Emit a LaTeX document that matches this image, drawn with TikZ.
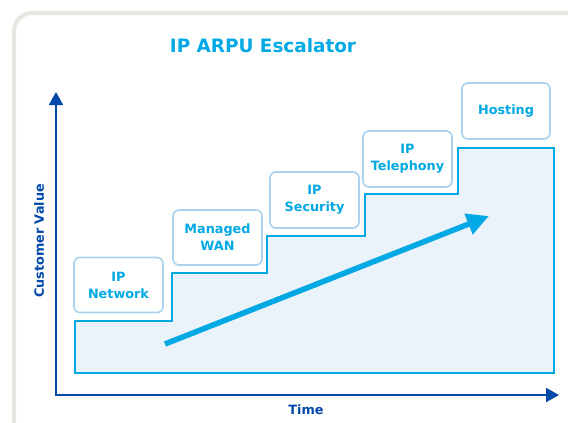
\documentclass[tikz,border=0pt]{standalone}
\usepackage{fontspec}
\setmainfont{DejaVu Sans}
\usetikzlibrary{arrows.meta}
\definecolor{framegrey}{RGB}{231,229,223}
\definecolor{axisblue}{RGB}{0,72,170}
\definecolor{stepcyan}{RGB}{0,168,228}
\definecolor{stepfill}{RGB}{234,242,250}
\definecolor{boxline}{RGB}{168,210,238}
\begin{document}
\begin{tikzpicture}[x=1pt, y=-1pt,
  every node/.style={font=\fontsize{12.8}{17}\selectfont\bfseries},
  svc/.style={draw=boxline, line width=1.6pt, fill=white, rounded corners=6pt, minimum width=89pt, minimum height=55pt, align=center, text=stepcyan, inner sep=0pt},
  axislabel/.style={text=axisblue}]
\useasboundingbox (0,0) rectangle (568,423);
\clip (0,0) rectangle (568,423);
\draw[framegrey, line width=4pt, rounded corners=18pt] (14,13) rectangle (590,445);
\node[text=stepcyan, font=\fontsize{18.4}{22}\selectfont\bfseries] (title) at (263,46) {IP ARPU Escalator};
% staircase
\draw[stepcyan, fill=stepfill, line width=1.8pt] (75,373) -- (75,321) -- (172,321) -- (172,273) -- (267,273) -- (267,236) -- (365,236) -- (365,194) -- (458,194) -- (458,148) -- (554,148) -- (554,373) -- cycle;
\node[svc] (net) at (118.5,285) {IP\\Network};
\node[svc] (wan) at (217.5,237.5) {Managed\\WAN};
\node[svc, minimum height=56pt] (sec) at (314.5,200) {IP\\Security};
\node[svc, minimum height=56pt] (tel) at (407.5,159) {IP\\Telephony};
\node[svc, minimum width=88pt, minimum height=56pt] (host) at (506,111) {Hosting};
% growth arrow
\coordinate (grow0) at (165,344);
\coordinate (grow1) at (489,216);
\draw[stepcyan, line width=5.5pt, -{Triangle[length=22pt, width=21pt]}] (grow0) -- (grow1);
% axes
\coordinate (origin) at (56,395);
\coordinate (ytip) at (56,92);
\coordinate (xtip) at (559,395);
\draw[axisblue, line width=2pt, {Triangle[length=13pt, width=14pt]}-{Triangle[length=13pt, width=14pt]}] (ytip) -- (origin) -- (xtip);
\node[axislabel, rotate=90] (yl) at (39,241) {Customer Value};
\node[axislabel] (xl) at (306,410) {Time};
\end{tikzpicture}
\end{document}
